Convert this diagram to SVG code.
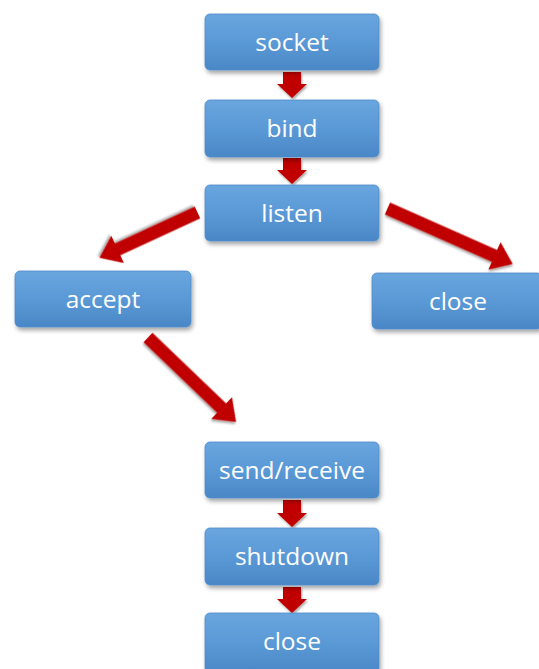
<svg xmlns="http://www.w3.org/2000/svg" width="539" height="669" viewBox="0 0 539 669">
<defs>
<linearGradient id="bg" x1="0" y1="0" x2="0" y2="1">
<stop offset="0" stop-color="#69a6de"/>
<stop offset="0.5" stop-color="#5a99d6"/>
<stop offset="1" stop-color="#4a87c6"/>
</linearGradient>
<filter id="sh" x="-10%" y="-20%" width="125%" height="150%">
<feDropShadow dx="1.5" dy="3" stdDeviation="2" flood-color="#000" flood-opacity="0.35"/>
</filter>
<filter id="ash" x="-20%" y="-30%" width="140%" height="160%">
<feDropShadow dx="1" dy="2" stdDeviation="1.2" flood-color="#000" flood-opacity="0.35"/>
</filter>
</defs>
<style>
.box{fill:url(#bg);stroke:#4f8ccb;stroke-width:0.8;filter:url(#sh)}
.lbl{fill:#ffffff;font-family:"Open Sans","Noto Sans",sans-serif;font-size:24.5px;text-anchor:middle;dominant-baseline:central}
.arr{fill:#c00000;filter:url(#ash)}
</style>
<rect width="539" height="669" fill="#ffffff"/>
<g id="connectors">
<polygon class="arr" points="283,72 301,72 301,84 307,84 292,98 277,84 283,84"/>
<polygon class="arr" points="283,158 301,158 301,170 307,170 292,184 277,170 283,170"/>
<polygon class="arr" points="283,500 301,500 301,513 307,513 292,527 277,513 283,513"/>
<polygon class="arr" points="283,587 301,587 301,599 307,599 292,613 277,599 283,599"/>
<polygon class="arr" transform="translate(197.5,212.5) rotate(155.2)" points="0,-6.5 88,-6.5 88,-15 108,0 88,15 88,6.5 0,6.5"/>
<polygon class="arr" transform="translate(387.5,208.5) rotate(23.9)" points="0,-6.5 117,-6.5 117,-15 137,0 117,15 117,6.5 0,6.5"/>
<polygon class="arr" transform="translate(148,337.5) rotate(43.8)" points="0,-6.5 102,-6.5 102,-15 122,0 102,15 102,6.5 0,6.5"/>
</g>
<g id="socket"><rect class="box" x="205" y="14" width="174" height="56" rx="5"/><text class="lbl" x="292" y="41">socket</text></g>
<g id="bind"><rect class="box" x="205" y="100" width="174" height="57" rx="5"/><text class="lbl" x="292" y="127">bind</text></g>
<g id="listen"><rect class="box" x="205" y="185" width="174" height="56" rx="5"/><text class="lbl" x="292" y="212">listen</text></g>
<g id="accept"><rect class="box" x="15" y="271" width="176" height="56" rx="5"/><text class="lbl" x="103" y="298">accept</text></g>
<g id="close1"><rect class="box" x="372" y="273" width="170" height="56" rx="5"/><text class="lbl" x="458" y="300">close</text></g>
<g id="sendreceive"><rect class="box" x="205" y="442" width="174" height="56" rx="5"/><text class="lbl" x="292" y="469">send/receive</text></g>
<g id="shutdown"><rect class="box" x="205" y="528" width="174" height="57" rx="5"/><text class="lbl" x="292" y="555">shutdown</text></g>
<g id="close2"><rect class="box" x="205" y="613" width="174" height="60" rx="5"/><text class="lbl" x="292" y="640">close</text></g>
</svg>
